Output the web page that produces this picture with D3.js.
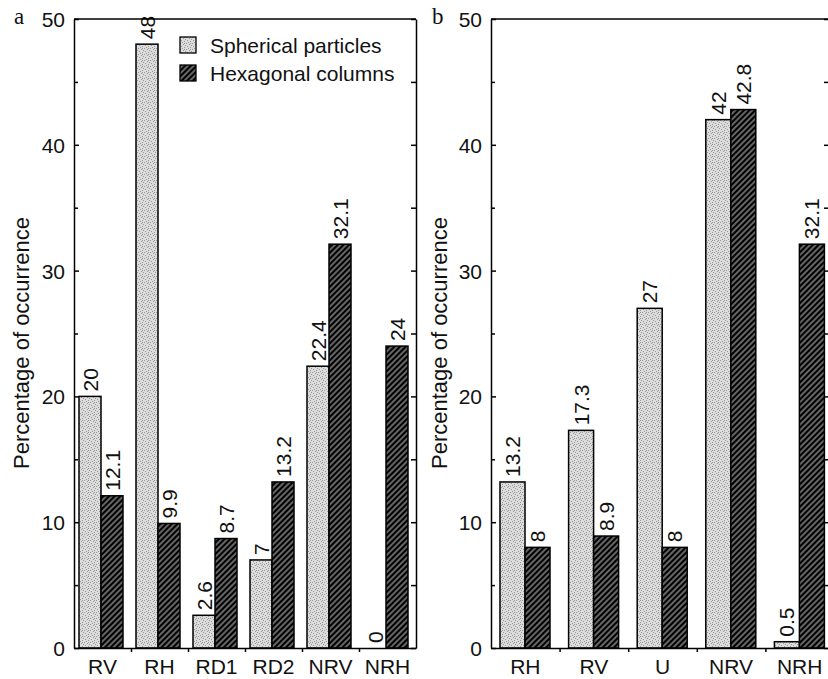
<!DOCTYPE html>
<html>
<head>
<meta charset="utf-8">
<script src="https://cdn.jsdelivr.net/npm/d3@7"></script>
<style>
  body { margin: 0; background: #fff; }
  svg { display: block; font-family: "Liberation Sans", Arial, sans-serif; }
  .axis path, .axis line { stroke: #000; stroke-width: 1.5; }
  .axis text { font-size: 21px; fill: #111; }
</style>
</head>
<body>
<svg id="chart" width="828" height="679"></svg>
<script>
// panel a
const catsA = ["RV", "RH", "RD1", "RD2", "NRV", "NRH"];
const spherA = [20, 48, 2.6, 7, 22.4, 0];
const hexA = [12.1, 9.9, 8.7, 13.2, 32.1, 24];
const labelsSpherA = ["20", "48", "2.6", "7", "22.4", "0"];
const labelsHexA = ["12.1", "9.9", "8.7", "13.2", "32.1", "24"];
// panel b
const catsB = ["RH", "RV", "U", "NRV", "NRH"];
const spherB = [13.2, 17.3, 27, 42, 0.5];
const hexB = [8, 8.9, 8, 42.8, 32.1];
const labelsSpherB = ["13.2", "17.3", "27", "42", "0.5"];
const labelsHexB = ["8", "8.9", "8", "42.8", "32.1"];

const yTicks = [0, 10, 20, 30, 40, 50];
const yMinor = [5, 15, 25, 35, 45];
const legendNames = ["Spherical particles", "Hexagonal columns"];

const svg = d3.select("#chart");
const defs = svg.append("defs");

// stippled light grey
const stip = defs.append("pattern").attr("id", "stip")
  .attr("patternUnits", "userSpaceOnUse").attr("width", 6).attr("height", 6);
stip.append("rect").attr("width", 6).attr("height", 6).attr("fill", "#dcdcdc");
[[0, 0], [3, 1], [1, 3], [4, 4], [5, 2], [2, 5], [4, 0]].forEach(([px, py]) =>
  stip.append("rect").attr("x", px).attr("y", py).attr("width", 1).attr("height", 1).attr("fill", "#999"));

// dense diagonal hatch
const hatch = defs.append("pattern").attr("id", "hatch")
  .attr("patternUnits", "userSpaceOnUse").attr("width", 4).attr("height", 4)
  .attr("patternTransform", "rotate(45)");
hatch.append("rect").attr("width", 4).attr("height", 4).attr("fill", "#000");
hatch.append("line").attr("x1", 2).attr("y1", 0).attr("x2", 2).attr("y2", 4)
  .attr("stroke", "#fff").attr("stroke-width", 0.8);

const yTop = 19, yBottom = 648;
const y = d3.scaleLinear().domain([0, 50]).range([yBottom, yTop]);

function drawPanel(p) {
  const g = svg.append("g");
  const x = d3.scaleBand().domain(p.cats).range([p.left, p.bandEnd]).padding(0);
  const inner = d3.scaleBand().domain(["s", "h"])
    .range([p.offset, p.offset + 2 * p.barW]).padding(0);

  // bars
  const rows = p.cats.map((c, i) => ({ c, s: p.spher[i], h: p.hex[i], ls: p.labS[i], lh: p.labH[i] }));
  rows.forEach(r => {
    [["s", r.s, r.ls, "url(#stip)"], ["h", r.h, r.lh, "url(#hatch)"]].forEach(([k, v, lab, fill]) => {
      const bx = x(r.c) + inner(k);
      g.append("rect")
        .attr("x", bx).attr("y", y(v))
        .attr("width", inner.bandwidth()).attr("height", yBottom - y(v))
        .attr("fill", fill).attr("stroke", "#000").attr("stroke-width", 1.5);
      g.append("text")
        .attr("transform", `translate(${bx + inner.bandwidth() / 2},${y(v) - 5}) rotate(-90)`)
        .attr("dy", "0.36em")
        .attr("font-size", 21).attr("fill", "#111")
        .text(lab);
    });
  });

  // frame: top line
  g.append("line").attr("x1", p.left).attr("x2", p.right)
    .attr("y1", yTop).attr("y2", yTop).attr("stroke", "#000").attr("stroke-width", 1.5);

  // left axis
  g.append("g").attr("class", "axis")
    .attr("transform", `translate(${p.left},0)`)
    .call(d3.axisLeft(y).tickValues(yTicks).tickSizeInner(-5).tickSizeOuter(0).tickPadding(9))
    .call(a => a.selectAll("text").attr("dy", "0.36em"));
  g.append("g").attr("class", "axis")
    .attr("transform", `translate(${p.left},0)`)
    .call(d3.axisLeft(y).tickValues(yMinor).tickSizeInner(-4).tickSizeOuter(0).tickFormat(""))
    .call(a => a.select(".domain").remove());

  // right axis
  g.append("g").attr("class", "axis")
    .attr("transform", `translate(${p.right},0)`)
    .call(d3.axisRight(y).tickValues(yTicks.concat(yMinor)).tickSizeInner(-5).tickSizeOuter(0).tickFormat(""));

  // bottom axis: boundary ticks + labels
  const bounds = p.cats.map(c => x(c)).concat([p.bandEnd]);
  const bx = d3.scaleLinear().domain([p.left, p.right]).range([p.left, p.right]);
  g.append("g").attr("class", "axis")
    .attr("transform", `translate(0,${yBottom})`)
    .call(d3.axisBottom(bx).tickValues(bounds.filter(v => v > p.left + 2 && v < p.right)).tickSizeInner(4).tickSizeOuter(0).tickFormat(""));
  g.append("g").attr("class", "axis")
    .attr("transform", `translate(0,${yBottom})`)
    .call(d3.axisBottom(x).tickSize(0).tickPadding(11))
    .call(a => a.select(".domain").remove())
    .call(a => a.selectAll("text").attr("dy", "0.71em"));

  // y title
  g.append("text")
    .attr("transform", `translate(${p.titleX},${p.titleY}) rotate(-90)`)
    .attr("text-anchor", "middle")
    .attr("font-size", 22).attr("fill", "#111")
    .text("Percentage of occurrence");

  // panel letter
  g.append("text")
    .attr("x", p.letterX).attr("y", 24)
    .attr("font-family", "'Liberation Serif', 'Times New Roman', serif")
    .attr("font-size", 23).attr("fill", "#111")
    .text(p.letter);
}

drawPanel({
  cats: catsA, spher: spherA, hex: hexA, labS: labelsSpherA, labH: labelsHexA,
  left: 74, right: 416, bandEnd: 416, offset: 5, barW: 22,
  titleX: 29, titleY: 343, letter: "a", letterX: 14
});
drawPanel({
  cats: catsB, spher: spherB, hex: hexB, labS: labelsSpherB, labH: labelsHexB,
  left: 491, right: 829, bandEnd: 834, offset: 9, barW: 25,
  titleX: 447, titleY: 343, letter: "b", letterX: 432
});

// legend (panel a)
const legend = svg.append("g").attr("transform", "translate(180,37)");
legendNames.forEach((name, i) => {
  legend.append("rect").attr("x", 0).attr("y", i * 28)
    .attr("width", 16).attr("height", 16)
    .attr("fill", i === 0 ? "url(#stip)" : "url(#hatch)")
    .attr("stroke", "#000").attr("stroke-width", 1.3);
  legend.append("text").attr("x", 30).attr("y", i * 28 + 16)
    .attr("font-size", 21).attr("fill", "#111").text(name);
});
</script>
</body>
</html>
